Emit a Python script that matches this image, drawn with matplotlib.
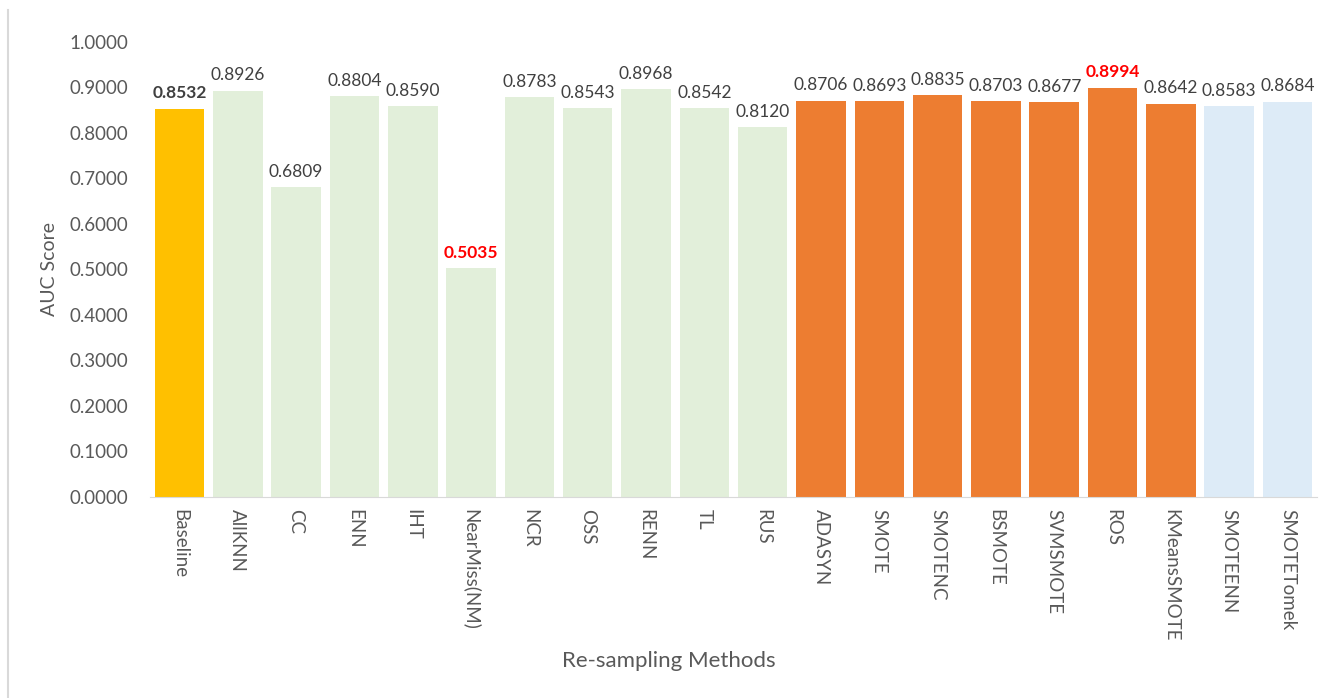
import matplotlib.pyplot as plt
from matplotlib.lines import Line2D

methods = ["Baseline", "AllKNN", "CC", "ENN", "IHT", "NearMiss(NM)", "NCR",
           "OSS", "RENN", "TL", "RUS", "ADASYN", "SMOTE", "SMOTENC", "BSMOTE",
           "SVMSMOTE", "ROS", "KMeansSMOTE", "SMOTEENN", "SMOTETomek"]
auc = [0.8532, 0.8926, 0.6809, 0.8804, 0.8590, 0.5035, 0.8783, 0.8543,
       0.8968, 0.8542, 0.8120, 0.8706, 0.8693, 0.8835, 0.8703, 0.8677,
       0.8994, 0.8642, 0.8583, 0.8684]
groups = ["base"] + ["under"] * 10 + ["over"] * 7 + ["combo"] * 2

group_colors = {"base": "#FFC000", "under": "#E2EFDA",
                "over": "#ED7D31", "combo": "#DDEBF7"}
text_col = "#595959"

plt.rcParams['font.family'] = ['Lato', 'DejaVu Sans']

fig = plt.figure(figsize=(13.3, 6.98), dpi=100)
ax = fig.add_axes([0.113, 0.288, 0.877, 0.652])

x = range(len(methods))
ax.bar(x, auc, width=0.85, color=[group_colors[g] for g in groups])

for i, v in enumerate(auc):
    if i == 0:
        ax.text(i, v + 0.016, f"{v:.4f}", ha="center", va="bottom",
                fontsize=12.5, color="#404040", fontweight="bold")
    elif i in (5, 16):
        ax.text(i, v + 0.016, f"{v:.4f}", ha="center", va="bottom",
                fontsize=12.5, color="#FF0000", fontweight="bold")
    else:
        ax.text(i, v + 0.016, f"{v:.4f}", ha="center", va="bottom",
                fontsize=12.5, color="#404040")

ax.set_xlim(-0.5, len(methods) - 0.5)
ax.set_ylim(0, 1.0)
ax.set_yticks([i / 10 for i in range(11)])
ax.set_yticklabels([f"{i / 10:.4f}" for i in range(11)])
ax.set_xticks(list(x))
ax.set_xticklabels(methods, rotation=-90, fontsize=13.5, color=text_col)
ax.tick_params(axis="y", labelsize=13.5, labelcolor=text_col, length=0, pad=16)
ax.tick_params(axis="x", length=0, pad=9)

for s in ["top", "right", "left"]:
    ax.spines[s].set_visible(False)
ax.spines["bottom"].set_color("#D9D9D9")

ax.set_ylabel("AUC Score", fontsize=14, color=text_col, labelpad=8)
fig.text(0.503, 0.045, "Re-sampling Methods", ha="center", fontsize=16,
         color=text_col)

fig.add_artist(Line2D([0.006, 0.006], [0.0, 0.985], color="#D9D9D9", lw=1.5))

fig.savefig("out.png", dpi=100)
